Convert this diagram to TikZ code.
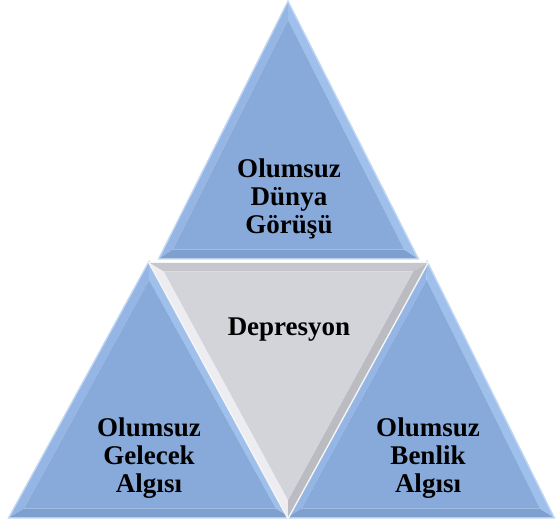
\documentclass[tikz,border=0pt]{standalone}
\usepackage{fontspec}
\setmainfont{Liberation Serif}
\usetikzlibrary{calc}
\definecolor{bBase}{HTML}{87AADA}
\definecolor{bLeft}{HTML}{95B6E4}
\definecolor{bBottom}{HTML}{7F9FCF}
\definecolor{bRight}{HTML}{A0C0EC}
\definecolor{bGlow}{HTML}{C2D7F1}
\definecolor{gBase}{HTML}{D3D4D9}
\definecolor{gTop}{HTML}{C6C7CC}
\definecolor{gRight}{HTML}{BBBCC1}
\definecolor{gLeft}{HTML}{EDEDF1}
\definecolor{gGlow}{HTML}{F6F6F8}
\newcommand\beveltri[8]{%
  \coordinate (tA) at #1; \coordinate (tB) at #2; \coordinate (tC) at #3;
  \coordinate (tG) at (barycentric cs:tA=1,tB=1,tC=1);
  \coordinate (iA) at ($(tG)!0.9!(tA)$);
  \coordinate (iB) at ($(tG)!0.9!(tB)$);
  \coordinate (iC) at ($(tG)!0.9!(tC)$);
  \draw[line width=3pt, #8, line join=miter] (tA)--(tB)--(tC)--cycle;
  \fill[#5] (tA)--(tB)--(iB)--(iA)--cycle;
  \fill[#6] (tB)--(tC)--(iC)--(iB)--cycle;
  \fill[#7] (tC)--(tA)--(iA)--(iC)--cycle;
  \fill[#4] (iA)--(iB)--(iC)--cycle;
}
\tikzset{lbl/.style={font=\fontsize{27}{28}\selectfont\bfseries, align=center, text=black, inner sep=0pt}}
\begin{document}
\begin{tikzpicture}[x=1pt,y=1pt]
\useasboundingbox (0,0) rectangle (556,523);
% top
\beveltri{(288,520)}{(160,265)}{(417,265)}{bBase}{bLeft}{bBottom}{bRight}{bGlow}
% left
\beveltri{(149,260)}{(10,6)}{(290,6)}{bBase}{bLeft}{bBottom}{bRight}{bGlow}
% right
\beveltri{(427,260)}{(288,6)}{(553,6)}{bBase}{bLeft}{bBottom}{bRight}{bGlow}
% middle (inverted)
\beveltri{(150,260)}{(288,6)}{(427,260)}{gBase}{gLeft}{gRight}{gTop}{gGlow}
\node[lbl, anchor=base] (top) at (289,290) {Olumsuz\\Dünya\\Görüşü};
\node[lbl, anchor=base] (mid) at (289,188) {Depresyon};
\node[lbl, anchor=base] (left) at (149,31) {Olumsuz\\Gelecek\\Algısı};
\node[lbl, anchor=base] (right) at (428,31) {Olumsuz\\Benlik\\Algısı};
\end{tikzpicture}
\end{document}
